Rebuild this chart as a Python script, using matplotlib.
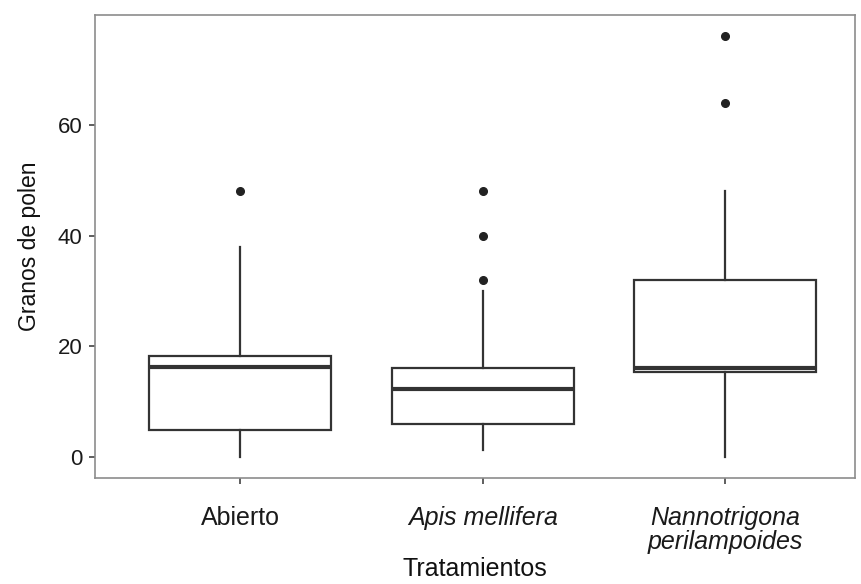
import matplotlib
matplotlib.use("Agg")
from matplotlib import pyplot as plt

plt.rcParams['font.family'] = ['Liberation Sans', 'DejaVu Sans']

# tratamientos y resumen de cada caja (granos de polen)
tratamientos = ["Abierto", "Apis mellifera", "Nannotrigona\nperilampoides"]
cursiva = [False, True, True]
minimo = [0, 1.3, 0]
q1 = [4.9, 6.0, 15.4]
mediana = [16.3, 12.3, 16.1]
q3 = [18.3, 16.0, 32.0]
maximo = [38, 30, 48]
atipicos = [[48], [32, 40, 48], [64, 76]]

stats = []
for i in range(len(tratamientos)):
    stats.append({
        "whislo": minimo[i], "q1": q1[i], "med": mediana[i],
        "q3": q3[i], "whishi": maximo[i], "fliers": atipicos[i],
    })

fig = plt.figure(figsize=(8.62, 5.84), dpi=100)
ax = fig.add_axes([0.110, 0.1815, 0.882, 0.7925])

linea = "#333333"
ax.bxp(stats, positions=[1, 2, 3], widths=0.75, showcaps=False,
       patch_artist=True,
       boxprops=dict(facecolor="white", edgecolor=linea, linewidth=1.6),
       whiskerprops=dict(color=linea, linewidth=1.6),
       medianprops=dict(color=linea, linewidth=3.0),
       flierprops=dict(marker="o", markersize=5.5, markerfacecolor="#222222",
                       markeredgecolor="#222222"))

# el panel queda cortado a la derecha
ax.set_xlim(0.4, 3.536)
ax.set_ylim(-3.8, 79.8)
ax.set_yticks([0, 20, 40, 60])
ax.set_xticks([1, 2, 3])
ax.set_xticklabels(tratamientos, fontsize=18, linespacing=1.0)
for lab, it in zip(ax.get_xticklabels(), cursiva):
    if it:
        lab.set_style("italic")

for s in ax.spines.values():
    s.set_color("#8c8c8c")
    s.set_linewidth(1.2)

ax.tick_params(axis="both", colors="#333333", length=4, width=1.1,
               labelcolor="#1a1a1a")
ax.tick_params(axis="x", pad=16)
ax.tick_params(axis="y", pad=5, labelsize=16)

ax.set_xlabel("Tratamientos", fontsize=18, color="#111111", labelpad=2)
ax.set_ylabel("Granos de polen", fontsize=16.5, color="#111111", labelpad=12)

fig.savefig("out.png", dpi=100, facecolor="white")
